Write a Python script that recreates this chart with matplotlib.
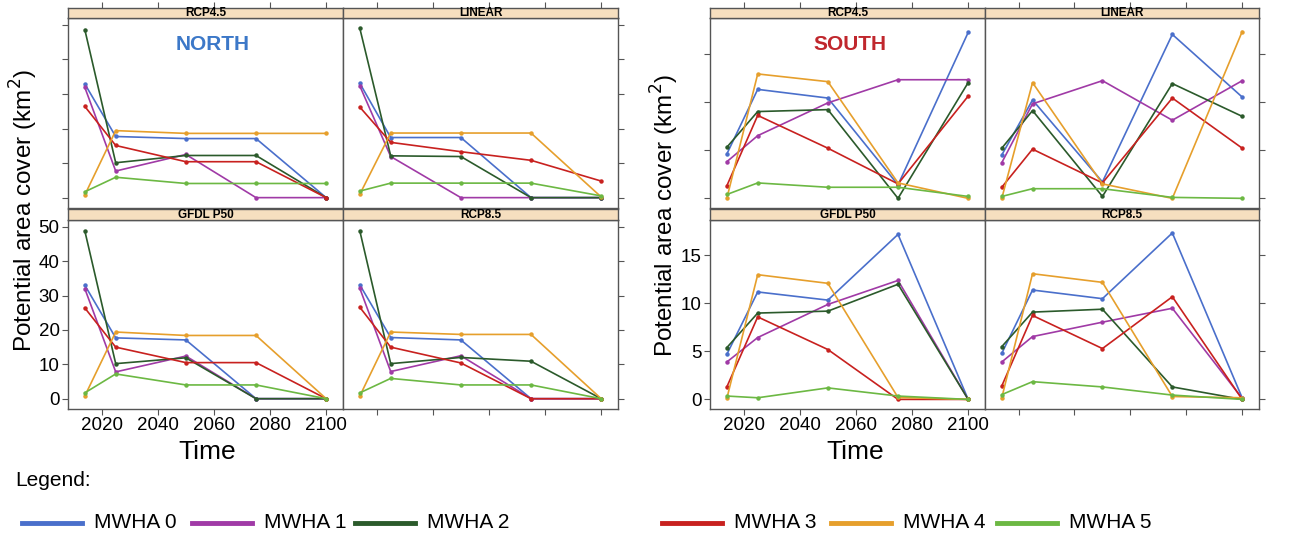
import matplotlib
matplotlib.use("Agg")
import matplotlib.pyplot as plt
from matplotlib.lines import Line2D

plt.rcParams["font.family"] = ["Liberation Sans", "DejaVu Sans"]

W, H = 1301, 544

years = [2014, 2025, 2050, 2075, 2100]
classes = ["MWHA 0", "MWHA 1", "MWHA 2", "MWHA 3", "MWHA 4", "MWHA 5"]
colors = ["#4a6fcb", "#a03aa6", "#2b5a2b", "#c8211f", "#e69f2c", "#6cb843"]
panel_titles = ["RCP4.5", "LINEAR", "GFDL P50", "RCP8.5"]

# NORTH: one row per MWHA class, values at each year
north_rcp45 = [
    [32.9, 17.7, 17.1, 17.1, 0.0],
    [31.9, 7.7, 12.5, 0.0, 0.0],
    [48.6, 10.1, 12.2, 12.2, 0.0],
    [26.4, 15.1, 10.4, 10.4, 0.0],
    [0.8, 19.4, 18.6, 18.6, 18.6],
    [1.7, 5.9, 4.1, 4.1, 4.1],
]
north_linear = [
    [33.1, 17.4, 17.4, 0.0, 0.0],
    [32.3, 11.9, 0.0, 0.0, 0.0],
    [49.0, 12.1, 11.9, 0.0, 0.0],
    [26.2, 16.0, 13.3, 10.8, 4.8],
    [1.0, 18.7, 18.7, 18.7, 0.2],
    [1.9, 4.2, 4.2, 4.2, 0.5],
]
north_gfdl = [
    [33.0, 17.7, 17.1, 0.0, 0.0],
    [32.0, 7.8, 12.4, 0.0, 0.0],
    [48.8, 10.2, 11.9, 0.0, 0.0],
    [26.4, 15.0, 10.5, 10.5, 0.0],
    [0.8, 19.4, 18.4, 18.4, 0.0],
    [1.7, 7.2, 4.0, 4.0, 0.0],
]
north_rcp85 = [
    [33.1, 17.8, 17.1, 0.0, 0.0],
    [32.1, 7.9, 12.5, 0.0, 0.0],
    [48.8, 10.2, 12.0, 10.9, 0.0],
    [26.6, 15.0, 10.4, 0.0, 0.0],
    [0.8, 19.4, 18.7, 18.7, 0.0],
    [1.7, 5.9, 4.0, 4.0, 0.0],
]

# SOUTH
south_rcp45 = [
    [4.6, 11.3, 10.4, 1.4, 17.2],
    [3.8, 6.5, 9.9, 12.3, 12.3],
    [5.3, 9.0, 9.2, 0.0, 12.0],
    [1.3, 8.6, 5.2, 1.5, 10.6],
    [0.0, 12.9, 12.1, 1.6, 0.0],
    [0.4, 1.6, 1.15, 1.15, 0.2],
]
south_linear = [
    [4.5, 10.2, 1.7, 17.0, 10.5],
    [3.7, 9.8, 12.2, 8.1, 12.2],
    [5.2, 9.1, 0.2, 11.9, 8.5],
    [1.15, 5.1, 1.6, 10.4, 5.2],
    [0.0, 12.0, 1.5, 0.0, 17.3],
    [0.2, 1.0, 1.0, 0.1, 0.0],
]
south_gfdl = [
    [4.7, 11.2, 10.35, 17.2, 0.0],
    [3.9, 6.45, 9.9, 12.4, 0.0],
    [5.4, 9.0, 9.2, 12.0, 0.0],
    [1.3, 8.6, 5.2, 0.0, 0.0],
    [0.1, 13.0, 12.1, 0.2, 0.0],
    [0.35, 0.17, 1.2, 0.35, 0.0],
]
south_rcp85 = [
    [4.8, 11.4, 10.5, 17.35, 0.15],
    [3.9, 6.55, 8.05, 9.5, 0.1],
    [5.5, 9.1, 9.4, 1.3, 0.0],
    [1.4, 8.75, 5.3, 10.7, 0.0],
    [0.17, 13.1, 12.2, 0.3, 0.17],
    [0.5, 1.85, 1.3, 0.45, 0.0],
]

north_ticks = [0, 10, 20, 30, 40, 50]
south_ticks = [0, 5, 10, 15]
year_ticks = [2020, 2040, 2060, 2080, 2100]

fig = plt.figure(figsize=(W / 100, H / 100), dpi=100)

EDGE = "#555555"
STRIP = "#f6dfbf"


def px_axes(x0, y0, x1, y1):
    return fig.add_axes([x0 / W, 1 - y1 / H, (x1 - x0) / W, (y1 - y0) / H])


def draw_block(datasets, cols, rows, ylim, yticks):
    for i, data in enumerate(datasets):
        r, c = divmod(i, 2)
        x0, x1 = cols[c]
        s0, s1, p1 = rows[r]
        ax = px_axes(x0, s1, x1, p1)
        st = px_axes(x0, s0, x1, s1)
        for vals, col in zip(data, colors):
            ax.plot(years, vals, color=col, lw=1.2, marker="o", ms=2.2,
                    mec=col, mfc=col, solid_joinstyle="round")
        ax.set_xlim(2008, 2106)
        ax.set_ylim(*ylim)
        ax.set_yticks(yticks)
        ax.set_xticks(year_ticks)
        for a in (ax, st):
            for sp in a.spines.values():
                sp.set_color(EDGE)
                sp.set_linewidth(1.0)
        ax.tick_params(direction="out", length=4, width=0.8, color=EDGE,
                       labelsize=13.5, pad=2,
                       left=(c == 0), right=(c == 1),
                       labelleft=(i == 2), labelright=False,
                       bottom=(r == 1), top=False,
                       labelbottom=(i == 2), labeltop=False)
        # strip
        st.set_facecolor(STRIP)
        st.set_xlim(2008, 2106)
        st.set_yticks([])
        st.set_xticks(year_ticks)
        st.tick_params(direction="out", length=4, width=0.8, color=EDGE,
                       bottom=False, top=(r == 0), labelbottom=False,
                       labeltop=False)
        st.text(0.5, 0.45, panel_titles[i], transform=st.transAxes,
                ha="center", va="center", fontsize=8.5, fontweight="bold")


rows = [(8, 18, 208), (209, 220, 409)]
draw_block([north_rcp45, north_linear, north_gfdl, north_rcp85],
           [(68, 343), (343, 618)], rows, (-3.0, 52.0), north_ticks)
draw_block([south_rcp45, south_linear, south_gfdl, south_rcp85],
           [(710, 985), (985, 1259)], rows, (-1.0, 18.7), south_ticks)

ylab = "Potential area cover (km$^2$)"
fig.text(24 / W, 1 - 210 / H, ylab, rotation=90, ha="center", va="center",
         fontsize=17.5)
fig.text(665 / W, 1 - 215 / H, ylab, rotation=90, ha="center", va="center",
         fontsize=17.5)
fig.text(207 / W, 1 - 452 / H, "Time", ha="center", va="center", fontsize=19)
fig.text(855 / W, 1 - 452 / H, "Time", ha="center", va="center", fontsize=19)

fig.text(213 / W, 1 - 45 / H, "NORTH", ha="center", va="center",
         fontsize=15, fontweight="bold", color="#3c78c8")
fig.text(850 / W, 1 - 45 / H, "SOUTH", ha="center", va="center",
         fontsize=15, fontweight="bold", color="#c0272d")

# legend
fig.text(15 / W, 1 - 480 / H, "Legend:", ha="left", va="center", fontsize=15)
line_x = [22, 192, 355, 662, 831, 997]
leg_y = 1 - 523 / H
for lx, col, name in zip(line_x, colors, classes):
    fig.add_artist(Line2D([lx / W, (lx + 60) / W], [leg_y, leg_y],
                          color=col, lw=3.5, transform=fig.transFigure))
    fig.text((lx + 72) / W, leg_y, name, ha="left", va="center", fontsize=15)

fig.savefig("out.png", dpi=100)
